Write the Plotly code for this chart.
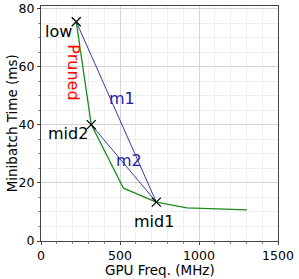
import plotly.graph_objects as go

# Data
green_freq = [223, 318, 522, 730, 924, 1304]
green_time = [75.6, 40.1, 18.2, 13.4, 11.4, 10.7]

m1_freq = [223, 730]
m1_time = [75.6, 13.4]
m2_freq = [318, 730]
m2_time = [40.1, 13.4]

point_names = ["low", "mid2", "mid1"]
point_freq = [223, 318, 730]
point_time = [75.6, 40.1, 13.4]

x_ticks = [0, 500, 1000, 1500]
y_ticks = [0, 20, 40, 60, 80]

FONT = "DejaVu Sans"
BLUE = "#2222a6"
GREEN = "#1a8c1a"

fig = go.Figure()
fig.add_trace(go.Scatter(x=green_freq, y=green_time, mode="lines",
                         line=dict(color=GREEN, width=1.3), showlegend=False))
fig.add_trace(go.Scatter(x=m1_freq, y=m1_time, mode="lines",
                         line=dict(color=BLUE, width=0.9), showlegend=False))
fig.add_trace(go.Scatter(x=m2_freq, y=m2_time, mode="lines",
                         line=dict(color=BLUE, width=0.9), showlegend=False))
fig.add_trace(go.Scatter(x=point_freq, y=point_time, mode="markers",
                         marker=dict(symbol="x-thin", size=9, color="black",
                                     line=dict(color="black", width=1.3)),
                         showlegend=False))

# labels
fig.add_annotation(x=point_freq[0], y=point_time[0], text="low", showarrow=False,
                   xanchor="right", yanchor="middle", xshift=-2, yshift=-10,
                   font=dict(family=FONT, size=16, color="black"))
fig.add_annotation(x=point_freq[1], y=point_time[1], text="mid2", showarrow=False,
                   xanchor="right", yanchor="middle", xshift=-1, yshift=-9,
                   font=dict(family=FONT, size=16, color="black"))
fig.add_annotation(x=point_freq[2], y=point_time[2], text="mid1", showarrow=False,
                   xanchor="center", yanchor="middle", xshift=-2, yshift=-19,
                   font=dict(family=FONT, size=16, color="black"))
fig.add_annotation(x=205, y=58, text="Pruned", showarrow=False, textangle=90,
                   xanchor="center", yanchor="middle",
                   font=dict(family=FONT, size=16, color="red"))
fig.add_annotation(x=510, y=49, text="m1", showarrow=False,
                   xanchor="center", yanchor="middle",
                   font=dict(family=FONT, size=16, color=BLUE))
fig.add_annotation(x=560, y=27.8, text="m2", showarrow=False,
                   xanchor="center", yanchor="middle",
                   font=dict(family=FONT, size=16, color=BLUE))

# axis titles
fig.add_annotation(xref="paper", yref="paper", x=-0.123, y=0.5,
                   text="Minibatch Time (ms)", showarrow=False, textangle=-90,
                   xanchor="center", yanchor="middle",
                   font=dict(family=FONT, size=13.5, color="black"))
fig.add_annotation(xref="paper", yref="paper", x=0.5, y=-0.124,
                   text="GPU Freq. (MHz)", showarrow=False,
                   xanchor="center", yanchor="middle",
                   font=dict(family=FONT, size=13.5, color="black"))

axis_common = dict(
    showline=True, linecolor="#444444", linewidth=1, mirror=True,
    ticks="outside", ticklen=3, tickcolor="#444444",
    showgrid=True, gridcolor="#d4d4d4", gridwidth=1,
    zeroline=False, automargin=False,
    tickfont=dict(family=FONT, size=12.5, color="black"),
)

fig.update_xaxes(range=[0, 1500], tickvals=x_ticks,
                 minor=dict(dtick=100, showgrid=True, gridcolor="#efefef",
                            ticks="outside", ticklen=2, tickcolor="#888888"),
                 **axis_common)
fig.update_yaxes(range=[0, 81], tickvals=y_ticks,
                 minor=dict(dtick=5, showgrid=True, gridcolor="#efefef",
                            ticks="outside", ticklen=2, tickcolor="#888888"),
                 **axis_common)

fig.update_layout(width=299, height=279,
                  margin=dict(l=41, r=21, t=6, b=38),
                  paper_bgcolor="white", plot_bgcolor="white",
                  font=dict(family=FONT))

fig.write_html("out.html", config={"displayModeBar": False},
               post_script="document.body.style.margin='0';"
                           "document.body.style.overflow='hidden';")
